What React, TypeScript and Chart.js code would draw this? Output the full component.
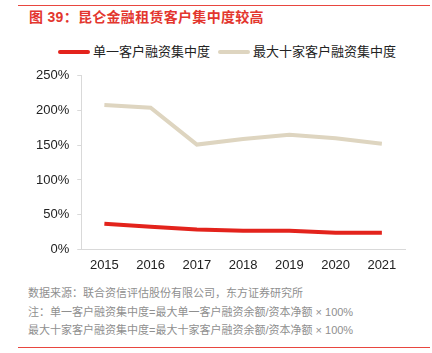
import React, { useEffect, useRef } from "react";
import { Chart, registerables } from "chart.js";

Chart.register(...registerables);

const years = ["2015", "2016", "2017", "2018", "2019", "2020", "2021"];
const singleClient = [37, 32.5, 28.5, 27, 27, 24, 24];
const topTenClients = [208, 204, 151, 159, 165, 160, 152];
const yTicks = [0, 50, 100, 150, 200, 250];
const seriesNames = ["单一客户融资集中度", "最大十家客户融资集中度"];
const seriesColors = ["#E3231C", "#DED5C0"];

const FONT = "'Liberation Sans', 'Noto Sans CJK SC', sans-serif";

export default function App() {
  const ref = useRef<HTMLCanvasElement | null>(null);
  useEffect(() => {
    if (!ref.current) return;
    const chart = new Chart(ref.current, {
      type: "line",
      data: {
        labels: years,
        datasets: [
          {
            label: seriesNames[0],
            data: singleClient,
            borderColor: seriesColors[0],
            backgroundColor: seriesColors[0],
            borderWidth: 4,
            pointRadius: 0,
            tension: 0,
          },
          {
            label: seriesNames[1],
            data: topTenClients,
            borderColor: seriesColors[1],
            backgroundColor: seriesColors[1],
            borderWidth: 4,
            pointRadius: 0,
            tension: 0,
          },
        ],
      },
      options: {
        animation: false,
        responsive: false,
        layout: { padding: { left: 28, right: 27, top: 14, bottom: 0 } },
        plugins: {
          tooltip: { enabled: false },
          legend: { display: false },
        },
        scales: {
          x: {
            offset: true,
            grid: { display: false, drawTicks: false },
            border: { color: "#d9d9d9", width: 1 },
            ticks: {
              color: "#222",
              padding: 8,
              font: { family: FONT, size: 13 },
            },
          },
          y: {
            min: 0,
            max: 250,
            afterBuildTicks: (axis: any) => {
              axis.ticks = yTicks.map((v) => ({ value: v }));
            },
            grid: {
              drawOnChartArea: false,
              drawTicks: true,
              tickLength: 4,
              color: "#d9d9d9",
            },
            border: { color: "#d9d9d9", width: 1 },
            ticks: {
              color: "#222",
              padding: 8,
              font: { family: FONT, size: 13 },
              callback: (v: any) => v + "%",
            },
          },
        },
      },
    });
    return () => chart.destroy();
  }, []);

  const legendItem = (i: number, swatchLeft: number) => (
    <React.Fragment key={i}>
      <div
        style={{
          position: "absolute",
          left: swatchLeft,
          top: 50,
          width: 32,
          height: 4,
          borderRadius: 2,
          background: seriesColors[i],
        }}
      />
      <div
        style={{
          position: "absolute",
          left: swatchLeft + 35,
          top: 43,
          fontSize: 13,
          lineHeight: "18px",
          color: "#222",
          whiteSpace: "nowrap",
        }}
      >
        {seriesNames[i]}
      </div>
    </React.Fragment>
  );

  return (
    <div
      style={{
        position: "fixed",
        left: 0,
        top: 0,
        width: 432,
        height: 353,
        background: "#fff",
        fontFamily: FONT,
        overflow: "hidden",
      }}
    >
      <div
        style={{
          position: "absolute",
          left: 18,
          top: 5,
          width: 412,
          height: 1,
          background: "#E8463F",
        }}
      />
      <div
        style={{
          position: "absolute",
          left: 29,
          top: 8,
          fontSize: 14,
          fontWeight: "bold",
          color: "#E3362E",
          lineHeight: "18px",
          whiteSpace: "nowrap",
          letterSpacing: 0.3,
        }}
      >
        图 39：昆仑金融租赁客户集中度较高
      </div>
      {legendItem(0, 58)}
      {legendItem(1, 218)}
      <canvas
        ref={ref}
        width={432}
        height={221}
        style={{ position: "absolute", left: 0, top: 60, width: 432, height: 221 }}
      />
      <div
        style={{
          position: "absolute",
          left: 28,
          top: 284,
          fontSize: 11,
          color: "#8f8f8f",
          lineHeight: "18.5px",
          whiteSpace: "nowrap",
        }}
      >
        <div>数据来源：联合资信评估股份有限公司，东方证券研究所</div>
        <div>注：单一客户融资集中度=最大单一客户融资余额/资本净额 × 100%</div>
        <div>最大十家客户融资集中度=最大十家客户融资余额/资本净额 × 100%</div>
      </div>
      <div
        style={{
          position: "absolute",
          left: 18,
          top: 347,
          width: 412,
          height: 1,
          background: "#E8463F",
        }}
      />
    </div>
  );
}
